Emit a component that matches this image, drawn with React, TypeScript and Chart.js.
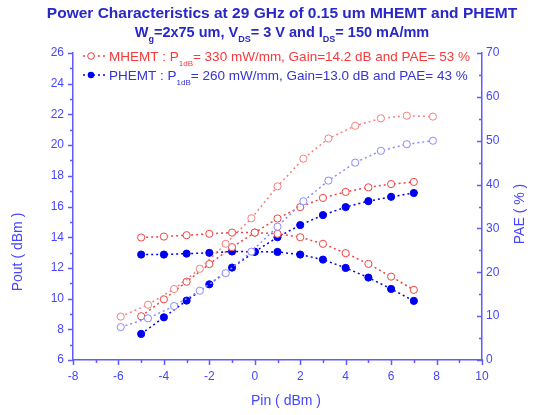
import React, { useEffect, useRef } from 'react';
import { Chart, registerables } from 'chart.js';
Chart.register(...registerables);

// ---- data ----
const pinX = [-5, -4, -3, -2, -1, 0, 1, 2, 3, 4, 5, 6, 7];
const paeX = [-5.9, -4.7, -3.55, -2.42, -1.28, -0.15, 1.0, 2.14, 3.24, 4.42, 5.55, 6.69, 7.84];
const mhemtPout = [8.85, 9.95, 11.1, 12.25, 13.35, 14.3, 15.22, 15.96, 16.56, 16.95, 17.25, 17.46, 17.6];
const mhemtGain = [13.98, 14.04, 14.13, 14.22, 14.3, 14.3, 14.22, 14.0, 13.57, 12.96, 12.26, 11.43, 10.57];
const phemtPout = [7.7, 8.78, 9.87, 10.93, 12.02, 13.05, 14.0, 14.79, 15.44, 15.96, 16.35, 16.63, 16.88];
const phemtGain = [12.87, 12.87, 12.93, 12.98, 13.07, 13.05, 13.04, 12.87, 12.54, 12.0, 11.37, 10.63, 9.85];
const mhemtPae = [9.9, 12.6, 16.2, 20.8, 26.5, 32.3, 39.6, 45.9, 50.5, 53.4, 55.1, 55.7, 55.5];
const phemtPae = [7.5, 9.5, 12.3, 15.8, 19.8, 24.7, 30.4, 36.2, 40.9, 45.0, 47.7, 49.2, 50.0];

const titleLine1 = 'Power Characteristics at 29 GHz of 0.15 um MHEMT and PHEMT';
const titleLine2 = [
  { t: 'W' }, { t: 'g', sub: true }, { t: '=2x75 um, V' }, { t: 'DS', sub: true },
  { t: '= 3 V and I' }, { t: 'DS', sub: true }, { t: '= 150 mA/mm' },
];
const legendMhemt = [{ t: 'MHEMT : P' }, { t: '1dB', sub: true }, { t: '= 330 mW/mm, Gain=14.2 dB and PAE= 53 %' }];
const legendPhemt = [{ t: 'PHEMT : P' }, { t: '1dB', sub: true }, { t: '= 260 mW/mm, Gain=13.0 dB and PAE= 43 %' }];
const xTitle = 'Pin ( dBm )';
const yTitle = 'Pout ( dBm )';
const y2Title = 'PAE ( % )';

const FONT = '"Liberation Sans", Arial, Helvetica, sans-serif';
const AXIS = '#5c5cff';
const LABEL = '#4646ff';
const TITLE = '#2828c8';
const RED = '#f04444';
const RED_L = '#f58080';
const BLUE = '#0000f0';
const BLUE_L = '#8a8aff';
const RED_TXT = '#f43a3a';
const BLUE_TXT = '#3434d4';

type Seg = { t: string; sub?: boolean };

function drawRich(ctx: CanvasRenderingContext2D, segs: Seg[], x: number, y: number, size: number, bold: boolean, color: string, align: 'left' | 'center') {
  const font = (sub?: boolean) => `${bold ? 'bold ' : ''}${sub ? Math.round(size * 0.62) : size}px ${FONT}`;
  let w = 0;
  for (const s of segs) { ctx.font = font(s.sub); w += ctx.measureText(s.t).width; }
  let cx = align === 'center' ? x - w / 2 : x;
  ctx.fillStyle = color;
  ctx.textAlign = 'left';
  ctx.textBaseline = 'alphabetic';
  for (const s of segs) {
    ctx.font = font(s.sub);
    ctx.fillText(s.t, cx, s.sub ? y + size * 0.36 : y);
    cx += ctx.measureText(s.t).width;
  }
}

const pts = (xs: number[], ys: number[]) => xs.map((x, i) => ({ x, y: ys[i] }));

const decor = {
  id: 'decor',
  afterDraw(chart: any) {
    const ctx: CanvasRenderingContext2D = chart.ctx;
    const { left, right, bottom } = chart.chartArea;
    const xs = chart.scales.x, ys = chart.scales.y, y2 = chart.scales.y2;
    ctx.save();
    ctx.strokeStyle = AXIS;
    ctx.lineWidth = 1.5;
    ctx.beginPath();
    for (let v = 6; v <= 26; v++) {
      const p = Math.round(ys.getPixelForValue(v)) + 0.5;
      const len = v % 2 === 0 ? 5 : 3;
      ctx.moveTo(left, p); ctx.lineTo(left - len, p);
    }
    for (let v = 0; v <= 70; v += 5) {
      const p = Math.round(y2.getPixelForValue(v)) + 0.5;
      const len = v % 10 === 0 ? 5 : 3;
      ctx.moveTo(right, p); ctx.lineTo(right - len, p);
    }
    for (let v = -8; v <= 10; v++) {
      const p = Math.round(xs.getPixelForValue(v)) + 0.5;
      const len = v % 2 === 0 ? 5 : 3;
      ctx.moveTo(p, bottom); ctx.lineTo(p, bottom + len);
    }
    ctx.stroke();

    // titles
    ctx.font = `bold 15.5px ${FONT}`;
    ctx.fillStyle = TITLE;
    ctx.textAlign = 'center';
    ctx.textBaseline = 'alphabetic';
    ctx.fillText(titleLine1, 282, 18);
    drawRich(ctx, titleLine2, 282, 37, 14.5, true, TITLE, 'center');

    // axis titles
    ctx.font = `14px ${FONT}`;
    ctx.fillStyle = LABEL;
    ctx.textAlign = 'center';
    ctx.textBaseline = 'middle';
    ctx.fillText(xTitle, 286, 401);
    ctx.save();
    ctx.translate(18, 252);
    ctx.rotate(-Math.PI / 2);
    ctx.fillText(yTitle, 0, 0);
    ctx.restore();
    ctx.save();
    ctx.translate(520, 214);
    ctx.rotate(-Math.PI / 2);
    ctx.fillText(y2Title, 0, 0);
    ctx.restore();

    // legend
    const entries = [
      { segs: legendMhemt, color: RED, txt: RED_TXT, filled: false, y: 56 },
      { segs: legendPhemt, color: BLUE, txt: BLUE_TXT, filled: true, y: 75 },
    ];
    for (const e of entries) {
      ctx.strokeStyle = e.color;
      ctx.lineWidth = 1.5;
      ctx.setLineDash([2, 3]);
      ctx.beginPath();
      ctx.moveTo(83, e.y); ctx.lineTo(105, e.y);
      ctx.stroke();
      ctx.setLineDash([]);
      ctx.beginPath();
      ctx.arc(91, e.y, 3.3, 0, Math.PI * 2);
      if (e.filled) { ctx.fillStyle = e.color; ctx.fill(); }
      else { ctx.fillStyle = '#fff'; ctx.fill(); ctx.lineWidth = 1; ctx.stroke(); }
      drawRich(ctx, e.segs, 109, e.y + 5, 13.5, false, e.txt, 'left');
    }
    ctx.restore();
  },
};

export default function App() {
  const ref = useRef<HTMLCanvasElement>(null);
  useEffect(() => {
    if (!ref.current) return;
    const ds = (label: string, xs: number[], ys: number[], color: string, filled: boolean, axis: string) => ({
      label,
      data: pts(xs, ys),
      yAxisID: axis,
      borderColor: color,
      borderWidth: 1.5,
      borderDash: [2, 3],
      pointRadius: filled ? 3.6 : 3.6,
      pointBorderWidth: 1,
      pointBackgroundColor: filled ? color : '#ffffff',
      pointBorderColor: color,
      showLine: true,
      tension: 0,
      fill: false,
    });
    const gridOff = { display: false, drawTicks: false };
    const chart = new Chart(ref.current, {
      type: 'line',
      data: {
        datasets: [
          ds('MHEMT PAE', paeX, mhemtPae, RED_L, false, 'y2'),
          ds('PHEMT PAE', paeX, phemtPae, BLUE_L, false, 'y2'),
          ds('MHEMT Pout', pinX, mhemtPout, RED, false, 'y'),
          ds('MHEMT Gain', pinX, mhemtGain, RED, false, 'y'),
          ds('PHEMT Pout', pinX, phemtPout, BLUE, true, 'y'),
          ds('PHEMT Gain', pinX, phemtGain, BLUE, true, 'y'),
        ],
      },
      options: {
        responsive: false,
        animation: false,
        layout: { padding: { top: 53, left: 0, right: 0, bottom: 0 } },
        plugins: { legend: { display: false }, title: { display: false }, tooltip: { enabled: false } },
        scales: {
          x: {
            type: 'linear', min: -8, max: 10,
            ticks: { stepSize: 2, color: LABEL, font: { size: 12, family: FONT }, padding: 9, maxRotation: 0 },
            grid: gridOff,
            border: { display: true, color: AXIS, width: 1.5 },
            afterFit: (s: any) => { s.height = 55; },
          },
          y: {
            type: 'linear', position: 'left', min: 6, max: 26,
            ticks: { stepSize: 2, color: LABEL, font: { size: 12, family: FONT }, padding: 9 },
            grid: gridOff,
            border: { display: true, color: AXIS, width: 1.5 },
            afterFit: (s: any) => { s.width = 73; },
          },
          y2: {
            type: 'linear', position: 'right', min: 0, max: 70,
            ticks: { stepSize: 10, color: LABEL, font: { size: 12, family: FONT }, padding: 4 },
            grid: gridOff,
            border: { display: true, color: AXIS, width: 1.5 },
            afterFit: (s: any) => { s.width = 52; },
          },
        },
      },
      plugins: [decor],
    } as any);
    return () => chart.destroy();
  }, []);
  return (
    <div style={{ position: 'absolute', left: 0, top: 0, width: 534, height: 415, background: '#fff' }}>
      <canvas ref={ref} width={534} height={415} style={{ display: 'block' }} />
    </div>
  );
}
